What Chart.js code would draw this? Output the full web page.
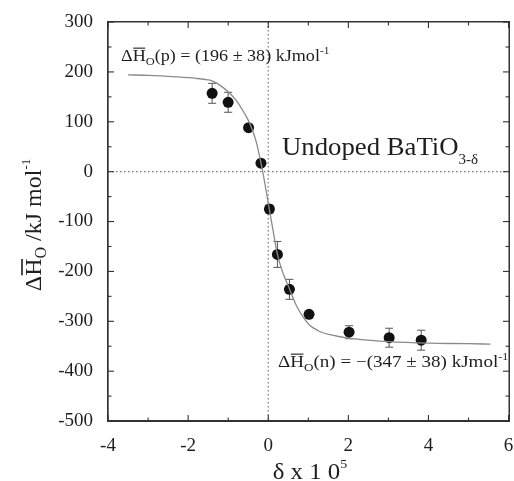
<!DOCTYPE html>
<html>
<head>
<meta charset="utf-8">
<script src="https://cdn.jsdelivr.net/npm/chart.js@4/dist/chart.umd.min.js"></script>
<style>
html,body{margin:0;padding:0;background:#fff;}
#wrap{width:514px;height:481px;position:relative;}
</style>
</head>
<body>
<div id="wrap"><canvas id="c" width="514" height="481"></canvas></div>
<script>
// ---- data ----
const deltaX   = [-1.4, -1.0, -0.49, -0.18, 0.03, 0.23, 0.53, 1.02, 2.02, 3.02, 3.82];
const enthalpy = [157, 139, 88, 17, -75, -166, -236, -286, -322, -333, -338];
const errBar   = [20, 20, 0, 0, 8, 26, 20, 0, 13, 19, 20];
const fitX = [-3.5, -3, -2.3, -1.8, -1.5, -1.4, -1.2, -1.0, -0.8, -0.6, -0.45, -0.3, -0.18, -0.08, 0.03, 0.13, 0.23, 0.35, 0.5, 0.7, 1.0, 1.3, 1.6, 2, 2.5, 3, 4, 5, 5.55];
const fitY = [194, 193, 190, 187, 184, 182, 173, 160, 143, 118, 95, 60, 17, -25, -76, -122, -166, -199, -229, -268, -305, -321, -328, -334, -338, -341, -344, -345, -346];
const xTicks = [-4, -2, 0, 2, 4, 6];
const yTicks = [-500, -400, -300, -200, -100, 0, 100, 200, 300];
const xMinorTicks = [-4, -3, -2, -1, 0, 1, 2, 3, 4, 5, 6];
const yMinorTicks = [-500, -450, -400, -350, -300, -250, -200, -150, -100, -50, 0, 50, 100, 150, 200, 250, 300];

const SERIF = '"Liberation Serif", "DejaVu Serif", serif';
const TXT = '#1e1e1e';
const AXIS = '#333333';

function drawRich(ctx, x, y, segs, align, sx) {
  sx = sx || 1;
  let w = 0;
  segs.forEach(s => { ctx.font = s.size + 'px ' + SERIF; w += ctx.measureText(s.t).width; });
  ctx.save();
  ctx.translate(align === 'center' ? x - w * sx / 2 : x, y);
  ctx.scale(sx, 1);
  let cx = 0;
  ctx.textAlign = 'left';
  ctx.textBaseline = 'alphabetic';
  segs.forEach(s => {
    ctx.font = s.size + 'px ' + SERIF;
    const sw = ctx.measureText(s.t).width;
    ctx.fillText(s.t, cx, s.dy || 0);
    if (s.over) {
      ctx.fillRect(cx + 0.5, (s.dy || 0) - s.size * 0.8 - 0.6, sw - 1, Math.max(1.1, s.size / 15));
    }
    cx += sw;
  });
  ctx.restore();
  return w * sx;
}

const deco = {
  id: 'deco',
  beforeDatasetsDraw(chart) {
    const {ctx, chartArea: a, scales: {x, y}} = chart;
    ctx.save();
    ctx.strokeStyle = '#777';
    ctx.lineWidth = 1.2;
    ctx.setLineDash([1.5, 2.5]);
    ctx.beginPath();
    ctx.moveTo(x.getPixelForValue(0), a.top); ctx.lineTo(x.getPixelForValue(0), a.bottom);
    ctx.moveTo(a.left, y.getPixelForValue(0)); ctx.lineTo(a.right, y.getPixelForValue(0));
    ctx.stroke();
    ctx.setLineDash([]);
    // error bars
    ctx.strokeStyle = '#555';
    ctx.lineWidth = 1;
    deltaX.forEach((dx, i) => {
      const e = errBar[i];
      if (!e) return;
      const px = x.getPixelForValue(dx);
      const t = y.getPixelForValue(enthalpy[i] + e);
      const b = y.getPixelForValue(enthalpy[i] - e);
      ctx.beginPath();
      ctx.moveTo(px, t); ctx.lineTo(px, b);
      ctx.moveTo(px - 4, t); ctx.lineTo(px + 4, t);
      ctx.moveTo(px - 4, b); ctx.lineTo(px + 4, b);
      ctx.stroke();
    });
    ctx.restore();
  },
  afterDraw(chart) {
    const {ctx, scales: {x, y}} = chart;
    const L = Math.round(x.getPixelForValue(-4));
    const R = Math.round(x.getPixelForValue(6));
    const T = Math.round(y.getPixelForValue(300));
    const B = Math.round(y.getPixelForValue(-500));
    ctx.save();
    ctx.fillStyle = AXIS;
    // frame as filled strips
    ctx.fillRect(L - 1, T - 1, R - L + 2, 1.5);
    ctx.fillRect(L - 1, B - 0.5, R - L + 2, 1.5);
    ctx.fillRect(L - 1, T - 1, 1.5, B - T + 2);
    ctx.fillRect(R - 0.5, T - 1, 1.5, B - T + 2);
    // inward ticks
    yMinorTicks.forEach(v => {
      const py = y.getPixelForValue(v);
      const len = yTicks.includes(v) ? 6 : 3.5;
      ctx.fillRect(L, py - 0.5, len, 1.1);
      ctx.fillRect(R - len, py - 0.5, len, 1.1);
    });
    xMinorTicks.forEach(v => {
      const px = x.getPixelForValue(v);
      const len = xTicks.includes(v) ? 6 : 3.5;
      ctx.fillRect(px - 0.5, B - len, 1.1, len);
      ctx.fillRect(px - 0.5, T, 1.1, len);
    });

    ctx.fillStyle = TXT;
    drawRich(ctx, 121, 61, [
      {t: 'Δ', size: 16}, {t: 'H', size: 16, over: true}, {t: 'O', size: 11, dy: 4},
      {t: '(p) = (196 ± 38) kJmol', size: 16}, {t: '-1', size: 10, dy: -7}
    ], 'left', 1.13);
    drawRich(ctx, 278, 367, [
      {t: 'Δ', size: 16}, {t: 'H', size: 16, over: true}, {t: 'O', size: 11, dy: 4},
      {t: '(n) = −(347 ± 38) kJmol', size: 16}, {t: '-1', size: 10, dy: -7}
    ], 'left', 1.19);
    drawRich(ctx, 282, 155, [
      {t: 'Undoped BaTiO', size: 25}, {t: '3-δ', size: 14, dy: 9}
    ], 'left', 1.07);
    drawRich(ctx, 310, 479, [
      {t: 'δ x 1 0', size: 23}, {t: '5', size: 13, dy: -11}
    ], 'center', 1.08);
    ctx.translate(41, 225);
    ctx.rotate(-Math.PI / 2);
    drawRich(ctx, 0, 0, [
      {t: 'Δ', size: 24}, {t: 'H', size: 24, over: true}, {t: 'O', size: 16, dy: 5},
      {t: ' /kJ mol', size: 24}, {t: '-1', size: 13, dy: -11}
    ], 'center', 1.0);
    ctx.restore();
  }
};

new Chart(document.getElementById('c'), {
  type: 'scatter',
  data: {
    datasets: [
      {
        label: 'fit',
        data: fitX.map((v, i) => ({x: v, y: fitY[i]})),
        showLine: true,
        pointRadius: 0,
        borderColor: '#8a8a8a',
        borderWidth: 1.3,
        cubicInterpolationMode: 'monotone',
        fill: false
      },
      {
        label: 'data',
        data: deltaX.map((v, i) => ({x: v, y: enthalpy[i]})),
        pointRadius: 5.5,
        pointBackgroundColor: '#111',
        pointBorderColor: '#111',
        pointBorderWidth: 0
      }
    ]
  },
  options: {
    responsive: false,
    animation: false,
    events: [],
    layout: {padding: {top: 22, right: 5, left: 0, bottom: 0}},
    plugins: {legend: {display: false}, tooltip: {enabled: false}},
    scales: {
      x: {
        type: 'linear', min: -4, max: 6,
        afterBuildTicks: s => { s.ticks = xTicks.map(v => ({value: v})); },
        afterFit: s => { s.height = 60; s.paddingLeft = 0; s.paddingRight = 0; },
        ticks: {font: {family: SERIF, size: 19}, color: TXT, padding: 6, maxRotation: 0},
        grid: {display: false},
        border: {display: true, color: AXIS, width: 1.4}
      },
      y: {
        type: 'linear', min: -500, max: 300,
        afterBuildTicks: s => { s.ticks = yTicks.map(v => ({value: v})); },
        afterFit: s => { s.width = 108; s.paddingTop = 0; s.paddingBottom = 0; },
        ticks: {font: {family: SERIF, size: 19}, color: TXT, padding: 7},
        grid: {display: false},
        border: {display: true, color: AXIS, width: 1.4}
      }
    }
  },
  plugins: [deco]
});
</script>
</body>
</html>
